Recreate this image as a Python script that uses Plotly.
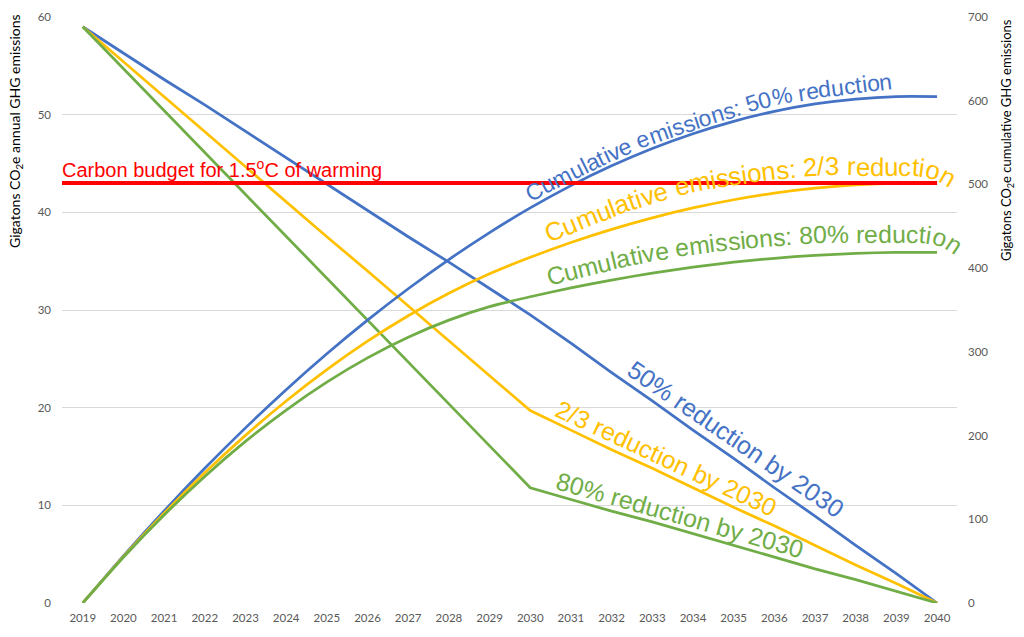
import math
import numpy as np
import plotly.graph_objects as go

# ---------------- data ----------------
years = list(range(2019, 2041))

annual_50 = [59.0, 56.3, 53.6, 51.0, 48.3, 45.6, 42.9, 40.2, 37.5, 34.9, 32.2, 29.5,
             26.6, 23.6, 20.7, 17.7, 14.8, 11.8, 8.9, 5.9, 3.0, 0.0]
annual_67 = [59.0, 55.4, 51.8, 48.3, 44.7, 41.1, 37.5, 34.0, 30.4, 26.8, 23.2, 19.7,
             17.7, 15.7, 13.8, 11.8, 9.8, 7.9, 5.9, 3.9, 2.0, 0.0]
annual_80 = [59.0, 54.7, 50.4, 46.1, 41.8, 37.5, 33.3, 29.0, 24.7, 20.4, 16.1, 11.8,
             10.6, 9.4, 8.3, 7.1, 5.9, 4.7, 3.5, 2.4, 1.2, 0.0]

cum_50 = [0, 56.3, 109.9, 160.9, 209.2, 254.8, 297.7, 337.9, 375.4, 410.3, 442.5, 472.0,
          498.6, 522.2, 542.9, 560.6, 575.4, 587.2, 596.1, 602.0, 605.0, 605.0]
cum_67 = [0, 55.4, 107.2, 155.5, 200.2, 241.3, 278.8, 312.8, 343.2, 370.0, 393.2, 412.9,
          430.6, 446.3, 460.1, 471.9, 481.7, 489.6, 495.5, 499.4, 501.4, 501.4]
cum_80 = [0, 54.7, 105.1, 151.2, 193.0, 230.5, 263.8, 292.8, 317.5, 337.9, 354.0, 365.8,
          376.4, 385.8, 394.1, 401.2, 407.1, 411.8, 415.3, 417.7, 418.9, 418.9]

carbon_budget_annual_axis = 43.0

left_ticks = [0, 10, 20, 30, 40, 50, 60]
right_ticks = [0, 100, 200, 300, 400, 500, 600, 700]

# ---------------- styles ----------------
BLUE = "#4472C4"
YELLOW = "#FFC000"
GREEN = "#70AD47"
RED = "#FF0000"
TICK = "#595959"
GRID = "#D9D9D9"
TICKFONT = "Lato"
LABELFONT = "Liberation Sans"

W, H = 1024, 637
ML, MR, MT, MB = 62, 67, 17, 34
PW, PH = W - ML - MR, H - MT - MB


def px2paper(px, py):
    return (px - ML) / PW, (H - MB - py) / PH


fig = go.Figure()

for vals, col, name in [(cum_50, BLUE, "Cumulative 50%"), (cum_67, YELLOW, "Cumulative 2/3"),
                        (cum_80, GREEN, "Cumulative 80%")]:
    fig.add_trace(go.Scatter(x=years, y=vals, yaxis="y2", mode="lines", name=name,
                             line=dict(color=col, width=2.75, shape="spline", smoothing=0.6)))

for vals, col, name in [(annual_50, BLUE, "50% by 2030"), (annual_67, YELLOW, "2/3 by 2030"),
                        (annual_80, GREEN, "80% by 2030")]:
    fig.add_trace(go.Scatter(x=years, y=vals, mode="lines", name=name,
                             line=dict(color=col, width=2.75)))

fig.add_shape(type="line", xref="x", yref="y", x0=2018.49, x1=2040,
              y0=carbon_budget_annual_axis, y1=carbon_budget_annual_axis,
              line=dict(color=RED, width=4), layer="above")

annotations = []

# Arial / Liberation Sans advance widths (1/1000 em)
WID = {' ': 278, 'C': 722, 'u': 556, 'm': 833, 'l': 222, 'a': 556, 't': 278, 'i': 222,
       'v': 500, 'e': 556, 's': 500, 'o': 556, 'n': 556, ':': 278, '5': 556, '0': 556,
       '%': 889, 'r': 333, 'd': 556, 'c': 500, '2': 556, '/': 278, '3': 556, '8': 556}


def catmull(pts, n=40):
    P = [pts[0]] + pts + [pts[-1]]
    out = []
    for i in range(1, len(P) - 2):
        p0, p1, p2, p3 = [np.array(p, float) for p in P[i - 1:i + 3]]
        for t in np.linspace(0, 1, n, endpoint=False):
            t2, t3 = t * t, t * t * t
            out.append(0.5 * (2 * p1 + (-p0 + p2) * t + (2 * p0 - 5 * p1 + 4 * p2 - p3) * t2
                              + (-p0 + 3 * p1 - 3 * p2 + p3) * t3))
    out.append(np.array(pts[-1], float))
    return np.array(out)


def text_on_path(text, pts, color):
    poly = catmull(pts)
    seg = np.sqrt(((poly[1:] - poly[:-1]) ** 2).sum(axis=1))
    cum = np.concatenate([[0], np.cumsum(seg)])
    total_len = cum[-1]
    units = sum(WID[c] for c in text)
    size = total_len / (units / 1000.0)

    def point_at(s):
        s = min(max(s, 0), total_len)
        return np.array([np.interp(s, cum, poly[:, 0]), np.interp(s, cum, poly[:, 1])])

    s = 0.0
    for ch in text:
        w = WID[ch] * size / 1000.0
        if ch != ' ':
            sc = s + w / 2
            p = point_at(sc)
            d = point_at(sc + 3) - point_at(sc - 3)
            a = math.atan2(d[1], d[0])
            nrm = np.array([math.sin(a), -math.cos(a)])
            c = p + nrm * 0.347 * size
            xp, yp = px2paper(c[0], c[1])
            annotations.append(dict(text=ch, x=xp, y=yp, xref="paper", yref="paper",
                                    xanchor="center", yanchor="middle", showarrow=False,
                                    textangle=math.degrees(a),
                                    font=dict(family=LABELFONT, size=size, color=color)))
        s += w


text_on_path("Cumulative emissions: 50% reduction",
             [(531, 202), (633, 152), (742, 115), (793, 102), (893, 89)], BLUE)
text_on_path("Cumulative emissions: 2/3 reduction",
             [(549, 243), (667, 199), (797, 177), (880, 176), (915, 176), (935, 180), (950, 188)], YELLOW)
text_on_path("Cumulative emissions: 80% reduction",
             [(549, 286), (660, 260), (787, 245), (880, 243), (920, 243), (940, 247), (955, 256)], GREEN)

for txt, col, cx, cy, ang in [("50% reduction by 2030", BLUE, 736, 439, 34.5),
                              ("2/3 reduction by 2030", YELLOW, 666, 458, 25.0),
                              ("80% reduction by 2030", GREEN, 680, 515, 15.8)]:
    xp, yp = px2paper(cx, cy)
    annotations.append(dict(text=txt, x=xp, y=yp, xref="paper", yref="paper",
                            xanchor="center", yanchor="middle", showarrow=False,
                            textangle=ang, font=dict(family=LABELFONT, size=25, color=col)))

xp, yp = px2paper(60, 183)
annotations.append(dict(text="Carbon budget for 1.5<sup>o</sup>C of warming", x=xp, y=yp,
                        xref="paper", yref="paper", xanchor="left", yanchor="bottom",
                        showarrow=False, font=dict(family=LABELFONT, size=20, color=RED)))

xp, yp = px2paper(15, 131)
annotations.append(dict(text="Gigatons CO<sub>2</sub>e annual GHG emissions", x=xp, y=yp,
                        xref="paper", yref="paper", xanchor="center", yanchor="middle",
                        showarrow=False, textangle=-90,
                        font=dict(family=TICKFONT, size=14, color="#000000")))
xp, yp = px2paper(1007, 140)
annotations.append(dict(text="Gigatons CO<sub>2</sub>e cumulative GHG emissions", x=xp, y=yp,
                        xref="paper", yref="paper", xanchor="center", yanchor="middle",
                        showarrow=False, textangle=-90,
                        font=dict(family=TICKFONT, size=13, color="#000000")))

fig.update_layout(
    width=W, height=H, autosize=False,
    margin=dict(l=ML, r=MR, t=MT, b=MB, pad=0, autoexpand=False),
    paper_bgcolor="white", plot_bgcolor="white",
    showlegend=False,
    annotations=annotations,
    xaxis=dict(range=[2018.49, 2040.49], tickmode="array", tickvals=years,
               ticktext=[str(y) for y in years], showgrid=False, zeroline=False,
               showline=False, ticks="", ticklabelstandoff=6, automargin=False,
               tickfont=dict(family=TICKFONT, size=11.5, color=TICK)),
    yaxis=dict(range=[0, 60], tickvals=left_ticks, showgrid=True, gridcolor=GRID,
               gridwidth=1, zeroline=False, showline=False, ticks="", ticklabelstandoff=10,
               automargin=False,
               tickfont=dict(family=TICKFONT, size=11.5, color=TICK)),
    yaxis2=dict(range=[0, 700], tickvals=right_ticks, overlaying="y", side="right",
                showgrid=False, zeroline=False, showline=False, ticks="", ticklabelstandoff=10,
                automargin=False,
                tickfont=dict(family=TICKFONT, size=11.5, color=TICK)),
)

fig.write_html("out.html", config={"displayModeBar": False},
               post_script="document.body.style.margin='0';document.body.style.padding='0';")
